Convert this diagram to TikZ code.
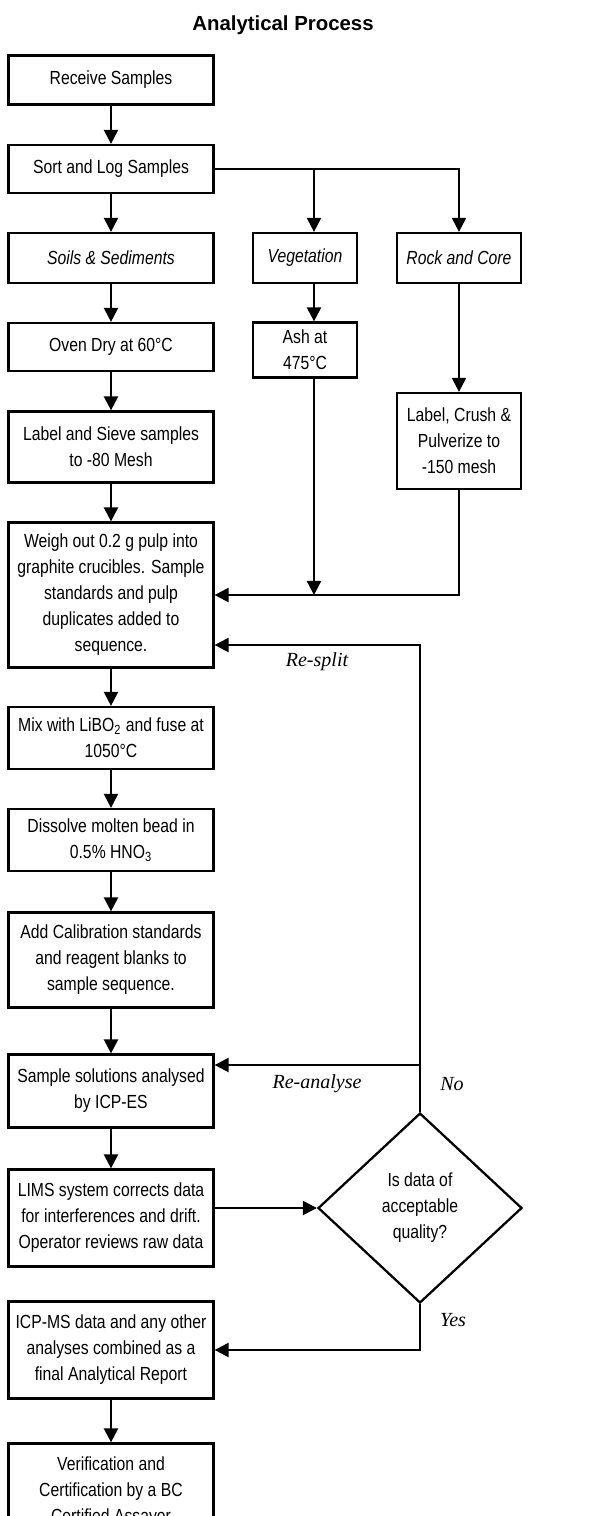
\documentclass[tikz,border=0pt]{standalone}
\usepackage{fontspec}
\setmainfont{Liberation Sans}[FakeStretch=0.83]
\newfontfamily\titlefont{Liberation Sans}
\newfontfamily\notefont{Liberation Serif}
\usetikzlibrary{arrows.meta,shapes.geometric}
\newcommand\boxfont{\fontsize{10.8pt}{14.8pt}\selectfont}

\begin{document}
\begin{tikzpicture}[x=0.02cm, y=-0.02cm,
  box/.style={draw, line width=1.3pt, align=center, inner sep=1pt, font=\boxfont},
  colbox/.style={box, minimum width=4.1cm},
  sidebox/.style={box, minimum width=2.08cm},
  rockbox/.style={box, minimum width=2.48cm},
  flow/.style={line width=1.3pt, -{Triangle[length=8pt,width=8pt]}},
  note/.style={font=\notefont\itshape\fontsize{11.4pt}{13pt}\selectfont}]
\useasboundingbox (0,0) rectangle (615,1516);
\clip (0,0) rectangle (615,1516);

\node[font=\titlefont\bfseries\fontsize{11.6pt}{13pt}\selectfont] (title) at (283,25) {Analytical Process};

\node[colbox, minimum height=0.98cm] (recv) at (111,80) {Receive Samples};
\node[colbox, minimum height=0.96cm] (sort) at (111,169) {Sort and Log Samples};
\node[colbox, minimum height=1cm, font=\boxfont\itshape] (soils) at (111,258) {Soils \& Sediments};
\node[sidebox, minimum height=1cm, font=\boxfont\itshape] (veg) at (305,258) {Vegetation};
\node[rockbox, minimum height=1cm, font=\boxfont\itshape] (rock) at (459,258) {Rock and Core};
\node[colbox, minimum height=0.96cm] (oven) at (111,347) {Oven Dry at 60°C};
\node[sidebox, minimum height=1.1cm] (ash) at (305,350) {Ash at\\475°C};
\node[rockbox, minimum height=1.92cm] (crush) at (459,441) {Label, Crush \&\\Pulverize to\\-150 mesh};
\node[colbox, minimum height=1.42cm] (sieve) at (111,447) {Label and Sieve samples\\to -80 Mesh};
\node[colbox, minimum height=2.9cm] (weigh) at (111,595) {Weigh out 0.2 g pulp into\\graphite crucibles. Sample\\standards and pulp\\duplicates added to\\sequence.};
\node[colbox, minimum height=1.24cm] (mix) at (111,738) {Mix with LiBO\textsubscript{2} and fuse at\\1050°C};
\node[colbox, minimum height=1.24cm] (dissolve) at (111,840) {Dissolve molten bead in\\0.5\% HNO\textsubscript{3}};
\node[colbox, minimum height=1.9cm] (calib) at (111,960) {Add Calibration standards\\and reagent blanks to\\sample sequence.};
\node[colbox, minimum height=1.46cm] (icpes) at (111,1091) {Sample solutions analysed\\by ICP-ES};
\node[colbox, minimum height=1.94cm] (lims) at (111,1218) {LIMS system corrects data\\for interferences and drift.\\Operator reviews raw data};
\node[diamond, draw, line width=1.3pt, minimum width=4.08cm, minimum height=3.8cm, align=center, inner sep=0pt, font=\boxfont] (check) at (420,1208) {Is data of\\acceptable\\quality?};
\node[colbox, minimum height=1.94cm] (icpms) at (111,1350) {ICP-MS data and any other\\analyses combined as a\\final Analytical Report};
\node[colbox, minimum height=1.94cm] (verif) at (111,1492) {Verification and\\Certification by a BC\\Certified Assayer};

\coordinate (vegx) at (314,0);
\coordinate (rsplit) at (420,645);
\coordinate (ranal) at (420,1065);

\draw[flow] (recv) -- (sort);
\draw[flow] (sort.east) -| (rock.north);
\draw[flow] (sort.east -| vegx) -- (veg.north -| vegx);
\draw[flow] (sort) -- (soils);
\draw[flow] (soils) -- (oven);
\draw[flow] (veg.south -| vegx) -- (ash.north -| vegx);
\draw[flow] (rock) -- (crush);
\draw[flow] (oven) -- (sieve);
\draw[flow] (sieve) -- (weigh);
\draw[flow] (ash.south -| vegx) -- (weigh.east -| vegx);
\draw[flow] (crush.south) |- (weigh.east);
\draw[flow] (check.north) -- (rsplit) -- (rsplit -| weigh.east);
\draw[flow] (ranal) -- (ranal -| icpes.east);
\draw[flow] (weigh) -- (mix);
\draw[flow] (mix) -- (dissolve);
\draw[flow] (dissolve) -- (calib);
\draw[flow] (calib) -- (icpes);
\draw[flow] (icpes) -- (lims);
\draw[flow] (check.west -| lims.east) -- (check.west);
\draw[flow] (check.south) |- (icpms.east);
\draw[flow] (icpms) -- (verif);

\node[note] (lsplit) at (317,662) {Re-split};
\node[note] (lanal) at (317,1084) {Re-analyse};
\node[note] (lno) at (452,1084) {No};
\node[note] (lyes) at (453,1320) {Yes};
\end{tikzpicture}
\end{document}
